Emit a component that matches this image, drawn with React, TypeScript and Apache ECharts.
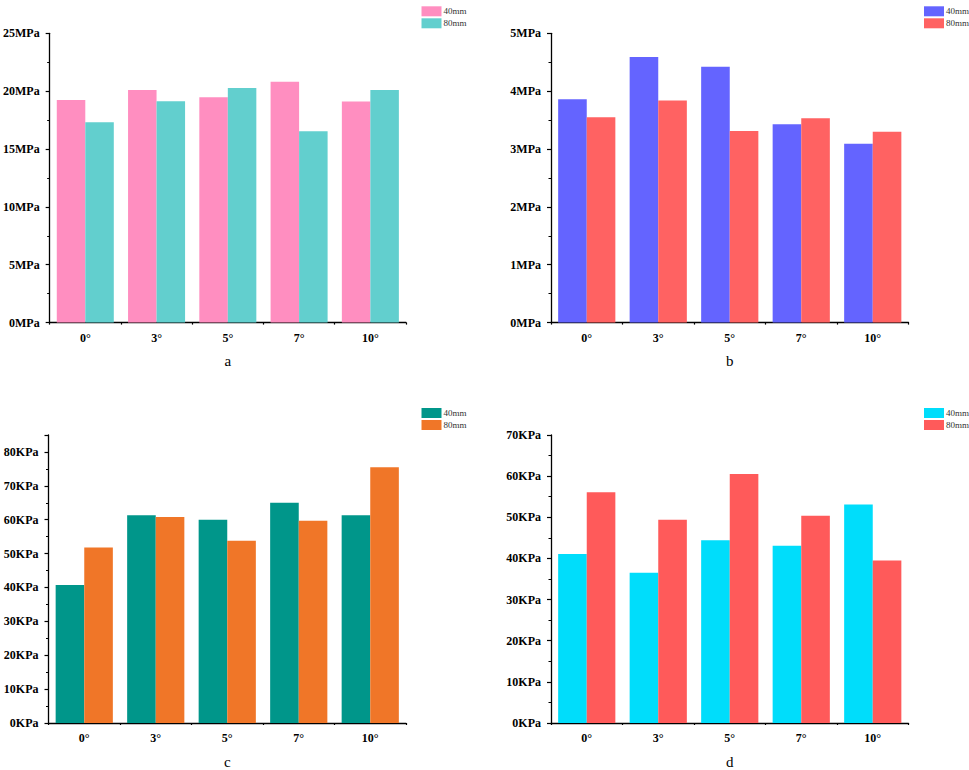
import React, { useEffect, useRef } from 'react';
import * as echarts from 'echarts';

const angles = ['0°', '3°', '5°', '7°', '10°'];
const sizes = ['40mm', '80mm'];

// a: MPa
const a40 = [19.24, 20.1, 19.47, 20.82, 19.1];
const a80 = [17.31, 19.12, 20.28, 16.53, 20.1];
// b: MPa
const b40 = [3.86, 4.59, 4.42, 3.43, 3.09];
const b80 = [3.55, 3.84, 3.31, 3.53, 3.3];
// c: KPa
const c40 = [40.7, 61.3, 60.0, 65.0, 61.3];
const c80 = [51.8, 60.8, 53.8, 59.7, 75.5];
// d: KPa
const d40 = [41.1, 36.5, 44.4, 43.1, 53.1];
const d80 = [56.1, 49.4, 60.5, 50.4, 39.5];

const font = 'Liberation Serif';

const panels = [
  { id: 'a', unit: 'MPa', max: 25, step: 5, data: [a40, a80], colors: ['#FF8EC0', '#62CFCE'], left: 48.5, top: 33.3 },
  { id: 'b', unit: 'MPa', max: 5, step: 1, data: [b40, b80], colors: ['#6464FF', '#FF6262'], left: 551, top: 33.3 },
  { id: 'c', unit: 'KPa', max: 85, step: 10, data: [c40, c80], colors: ['#00968A', '#F07628'], left: 48.5, top: 435 },
  { id: 'd', unit: 'KPa', max: 70, step: 10, data: [d40, d80], colors: ['#00DDFB', '#FF5A5A'], left: 551, top: 435 },
];

const W = 357.5;
const H = 289.3;

const App: React.FC = () => {
  const chartRef = useRef<HTMLDivElement>(null);

  useEffect(() => {
    if (!chartRef.current) return;
    const chart = echarts.init(chartRef.current, undefined, { renderer: 'svg' });

    const grid: any[] = [];
    const xAxis: any[] = [];
    const yAxis: any[] = [];
    const series: any[] = [];
    const legend: any[] = [];

    panels.forEach((p, i) => {
      grid.push({ left: p.left, top: p.top, width: W, height: H });
      xAxis.push({
        type: 'category',
        gridIndex: i,
        data: angles,
        name: p.id,
        nameLocation: 'middle',
        nameGap: 31,
        nameTextStyle: { fontFamily: font, fontSize: 15, color: '#000' },
        axisLine: { lineStyle: { color: '#000', width: 1.3 } },
        axisTick: { alignWithLabel: true, length: 4, lineStyle: { color: '#000', width: 1.2 } },
        axisLabel: { margin: 9, fontFamily: font, fontWeight: 'bold', fontSize: 12, color: '#000' },
      });
      // small ticks on the category boundaries
      xAxis.push({
        type: 'value',
        gridIndex: i,
        min: 0,
        max: 5,
        interval: 1,
        position: 'bottom',
        axisLine: { show: false },
        axisLabel: { show: false },
        splitLine: { show: false },
        axisTick: { show: true, length: 2, lineStyle: { color: '#000', width: 1.2 } },
      });
      yAxis.push({
        type: 'value',
        gridIndex: i,
        min: 0,
        max: p.max,
        interval: p.step,
        axisLine: { show: true, lineStyle: { color: '#000', width: 1.3 } },
        axisTick: { show: true, length: 4, lineStyle: { color: '#000', width: 1.2 } },
        minorTick: { show: true, splitNumber: 2, length: 2.5, lineStyle: { color: '#000', width: 1 } },
        splitLine: { show: false },
        axisLabel: {
          margin: 10,
          fontFamily: font,
          fontWeight: 'bold',
          fontSize: 12,
          color: '#000',
          formatter: (v: number) => (v % p.step === 0 ? v + p.unit : ''),
        },
      });
      p.data.forEach((vals, k) => {
        series.push({
          name: p.id + '-' + sizes[k],
          type: 'bar',
          xAxisIndex: i * 2,
          yAxisIndex: i,
          data: vals,
          barGap: '0%',
          barCategoryGap: '20%',
          itemStyle: { color: p.colors[k] },
        });
      });
      legend.push({
        data: sizes.map((s) => p.id + '-' + s),
        formatter: (n: string) => n.split('-')[1],
        orient: 'vertical',
        left: p.left + 368,
        top: p.top - 32,
        itemWidth: 20,
        itemHeight: 10,
        itemGap: 2,
        icon: 'rect',
        selectedMode: false,
        textStyle: { fontFamily: font, fontSize: 9, color: '#333', padding: [0, 0, 0, -3] },
      });
    });

    chart.setOption({
      animation: false,
      backgroundColor: '#fff',
      grid,
      xAxis,
      yAxis,
      legend,
      series,
    });

    return () => {
      chart.dispose();
    };
  }, []);

  return (
    <div
      ref={chartRef}
      style={{ position: 'absolute', left: 0, top: 0, width: '969px', height: '770px' }}
    ></div>
  );
};

export default App;
